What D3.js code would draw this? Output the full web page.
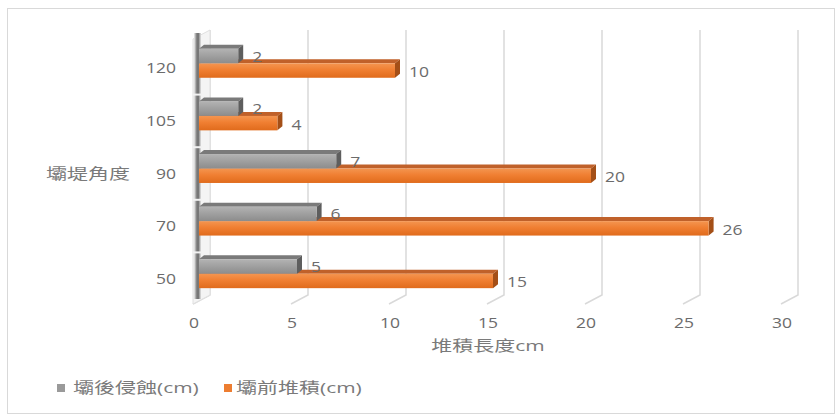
<!DOCTYPE html>
<html><head><meta charset="utf-8">
<script src="https://cdn.jsdelivr.net/npm/d3@7/dist/d3.min.js"></script>
<style>body{margin:0;background:#fff}svg{display:block}</style>
</head><body>
<svg id="c" width="836" height="415"></svg>
<script>
const categories = ["120","105","90","70","50"];
const seriesNames = ["壩後侵蝕(cm)","壩前堆積(cm)"];
const afterErosion = [2,2,7,6,5];
const beforeDeposit = [10,4,20,26,15];
const xTicks = [0,5,10,15,20,25,30];
const xTitle = "堆積長度cm";
const yTitle = "壩堤角度";

const svg = d3.select("#c");
const FONT = "'Open Sans','Noto Sans CJK TC',sans-serif";
const TXT = "#6b6b6b";

const x = d3.scaleLinear().domain([0,30]).range([199,787]);
const y = d3.scaleBand().domain(categories).range([37,300]).paddingInner(0.45).paddingOuter(0.225);
const ys = d3.scaleBand().domain([0,1]).range([0,y.bandwidth()]);
const DX = 5, DY = 4;          // bar depth offset
const BDX = 11, FDX = -6;      // back / front floor offsets

function txt(g, px, py, s, anchor, size, sx, fill){
  return g.append("text").attr("transform",`translate(${px},${py}) scale(${sx},1)`)
    .attr("text-anchor",anchor).attr("font-family",FONT).attr("font-size",size)
    .attr("fill",fill||TXT).text(s);
}

const defs = svg.append("defs");
function vgrad(id, stops){
  const g = defs.append("linearGradient").attr("id",id).attr("x1",0).attr("y1",0).attr("x2",0).attr("y2",1);
  stops.forEach(([o,c])=>g.append("stop").attr("offset",o).attr("stop-color",c));
}
vgrad("gFront",[[0,"#b3b3b3"],[0.4,"#a3a3a3"],[1,"#8c8c8c"]]);
vgrad("oFront",[[0,"#f49550"],[0.45,"#f07f32"],[1,"#e06b1c"]]);
const wg = defs.append("linearGradient").attr("id","wall").attr("x1",0).attr("y1",0).attr("x2",1).attr("y2",0);
[[0,"#f0f0f0"],[0.35,"#8a8a8a"],[0.6,"#6a6a6a"],[1,"#e6e6e6"]].forEach(([o,c])=>wg.append("stop").attr("offset",o).attr("stop-color",c));

// border
svg.append("rect").attr("x",7.5).attr("y",8.5).attr("width",827).attr("height",405)
  .attr("fill","none").attr("stroke","#d9d9d9").attr("stroke-width",1);

// grid: back verticals + floor diagonals
const grid = svg.append("g").attr("stroke","#d9d9d9").attr("stroke-width",1.5).attr("fill","none");
xTicks.forEach(v=>{
  const xb = x(v)+BDX, xf = x(v)+FDX;
  grid.append("path").attr("d",`M${xb},30 L${xb},295 L${xf},304`);
});

// left wall
const wall = svg.append("g");
wall.append("path").attr("d",`M${x(0)+BDX},30 L${x(0)+BDX},295 L${x(0)+FDX},304 L${x(0)+FDX},39 Z`)
  .attr("fill","#f4f4f4").attr("stroke","#e0e0e0");
wall.append("rect").attr("x",x(0)-5).attr("y",33).attr("width",7).attr("height",266).attr("fill","url(#wall)");
categories.slice(1).forEach(c=>{
  const yy = y(c) - y.step()*0.225 + 4;
  wall.append("rect").attr("x",x(0)-6).attr("y",yy).attr("width",9).attr("height",2).attr("fill","#f2f2f2");
});

// bar drawing
function bar(g, cat, i, v, cols){
  const x0 = x(0), x1 = x(v), t = y(cat)+ys(i), h = ys.bandwidth();
  g.append("path").attr("d",`M${x0},${t} L${x0+DX},${t-DY} L${x1+DX},${t-DY} L${x1},${t} Z`).attr("fill",cols.top);
  g.append("path").attr("d",`M${x1},${t} L${x1+DX},${t-DY} L${x1+DX},${t+h-DY} L${x1},${t+h} Z`).attr("fill",cols.side);
  g.append("rect").attr("x",x0).attr("y",t).attr("width",x1-x0).attr("height",h).attr("fill",cols.front);
}
const gCols = {top:"#7a7a7a", side:"#5e5e5e", front:"url(#gFront)"};
const oCols = {top:"#c0612a", side:"#a44f17", front:"url(#oFront)"};

const bars = svg.append("g");
categories.forEach((c,k)=>bar(bars,c,1,beforeDeposit[k],oCols));
categories.forEach((c,k)=>bar(bars,c,0,afterErosion[k],gCols));
const labels = svg.append("g");
categories.forEach((c,k)=>{
  const cy = y(c)+ys(0)+ys.bandwidth()/2;
  txt(labels, x(afterErosion[k])+14, cy+5.5, afterErosion[k], "start", 14, 1.25);
  const cy2 = y(c)+ys(1)+ys.bandwidth()/2;
  txt(labels, x(beforeDeposit[k])+14, cy2+6.5, beforeDeposit[k], "start", 14, 1.25);
});

// axis tick labels
const ax = svg.append("g");
xTicks.forEach(v=>txt(ax, x(v)-5, 328, v, "middle", 14, 1.25));
categories.forEach(c=>txt(ax, 176, y(c)+y.bandwidth()/2+10, c, "end", 14, 1.25));
txt(ax, 488, 351, xTitle, "middle", 15, 1.4, "#7a7a7a");
txt(ax, 88, 179, yTitle, "middle", 15, 1.4, "#7a7a7a");

// legend
const lg = svg.append("g");
lg.append("rect").attr("x",57).attr("y",384).attr("width",8).attr("height",8).attr("fill","#9a9a9a");
txt(lg, 73, 393, seriesNames[0], "start", 15, 1.4, "#7a7a7a");
lg.append("rect").attr("x",224).attr("y",384).attr("width",8).attr("height",8).attr("fill","#ed7d31");
txt(lg, 236, 393, seriesNames[1], "start", 15, 1.4, "#7a7a7a");
</script>
</body></html>
